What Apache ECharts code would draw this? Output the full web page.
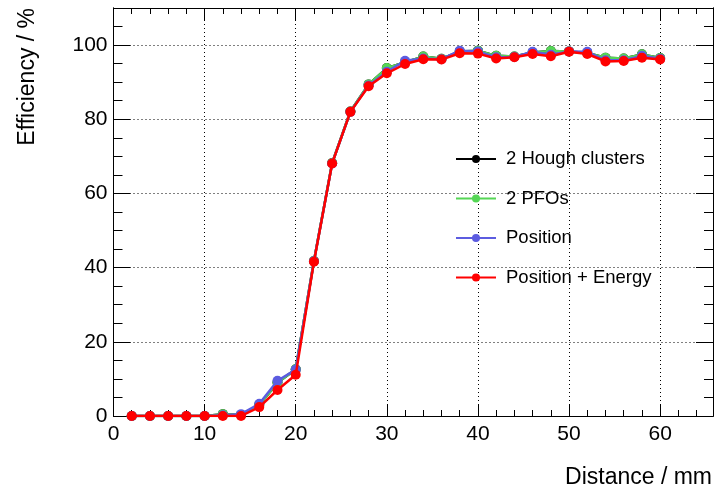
<!DOCTYPE html>
<html>
<head>
<meta charset="utf-8">
<script src="https://cdn.jsdelivr.net/npm/echarts@6/dist/echarts.min.js"></script>
<style>
html,body{margin:0;padding:0;background:#fff;}
#chart{width:717px;height:489px;}
</style>
</head>
<body>
<div id="chart"></div>
<script>
const distance = [2,4,6,8,10,12,14,16,18,20,22,24,26,28,30,32,34,36,38,40,42,44,46,48,50,52,54,56,58,60];
const houghClusters = [0,0,0,0,0,0.5,0.3,3.0,9.0,12.6,41.8,68.2,82.1,89.4,93.8,95.4,96.9,96.3,98.3,98.5,97.1,96.9,98.0,98.4,98.3,97.9,96.6,96.4,97.5,96.5];
const twoPFOs = [0,0,0,0,0,0.5,0.3,3.0,9.0,12.6,41.8,68.2,82.1,89.4,93.8,95.4,96.9,96.3,98.3,98.5,97.1,96.9,98.0,98.4,98.3,97.9,96.6,96.4,97.5,96.5];
const position = [0,0,0,0,0,0.2,0.5,3.3,9.5,12.5,41.7,68.1,82.0,89.1,92.8,95.8,96.4,96.2,98.5,98.3,96.7,96.8,98.2,97.4,98.3,98.2,95.9,95.9,97.1,96.3];
const positionEnergy = [0,0,0,0,0,0,0,2.4,7.0,11.1,41.6,68.1,82.0,88.9,92.4,94.9,96.2,96.1,97.8,97.7,96.4,96.7,97.6,97.0,98.2,97.6,95.6,95.7,96.6,96.1];
const seriesNames = ['2 Hough clusters','2 PFOs','Position','Position + Energy'];
const seriesColors = ['#000000','#55d655','#5c5ce0','#ff0000'];
const xTitle = 'Distance / mm';
const yTitle = 'Efficiency / %';

const FONT = 'Liberation Sans, Arial, sans-serif';
const X_MIN = 0, X_MAX = 65.8, Y_MIN = 0, Y_MAX = 110;

const chart = echarts.init(document.getElementById('chart'), null, {renderer:'canvas'});

function pairs(ys){ return distance.map((x,i)=>[x, ys[i]]); }
const allData = [houghClusters, twoPFOs, position, positionEnergy];

function axisBase(pos, min, max, interval, tickLen, opts){
  return Object.assign({
    type:'value', position:pos, min:min, max:max, interval:interval,
    axisLine:{show:true, onZero:false, lineStyle:{color:'#000', width:1}},
    axisTick:{show:true, inside:true, length:tickLen, lineStyle:{color:'#000', width:1}},
    axisLabel:{show:false},
    splitLine:{show:false}
  }, opts||{});
}

const option = {
  backgroundColor:'#fff',
  animation:false,
  grid:{left:113.5, right:4, top:8, bottom:73, containLabel:false},
  xAxis:[
    axisBase('bottom', X_MIN, X_MAX, 10, 12, {
      axisLabel:{show:true, color:'#000', fontSize:21, fontFamily:FONT, margin:8, showMaxLabel:false},
      splitLine:{show:true, lineStyle:{color:'#000', type:[1,3], width:1}}
    }),
    axisBase('bottom', X_MIN, X_MAX, 2, 6),
    axisBase('top', X_MIN, X_MAX, 10, 12),
    axisBase('top', X_MIN, X_MAX, 2, 6)
  ],
  yAxis:[
    axisBase('left', Y_MIN, Y_MAX, 20, 17, {
      axisLabel:{show:true, color:'#000', fontSize:21, fontFamily:FONT, margin:6, showMaxLabel:false},
      splitLine:{show:true, lineStyle:{color:'#000', type:[1,3], width:1}}
    }),
    axisBase('left', Y_MIN, Y_MAX, 5, 9),
    axisBase('right', Y_MIN, Y_MAX, 20, 17),
    axisBase('right', Y_MIN, Y_MAX, 5, 9)
  ],
  legend:{
    orient:'vertical', left:455, top:149, padding:0,
    itemWidth:40, itemHeight:10, itemGap:19.5,
    textStyle:{color:'#000', fontSize:18.5, fontFamily:FONT, lineHeight:20, padding:[0,0,0,5]},
    data:seriesNames
  },
  graphic:[
    {type:'text', right:5, top:466, style:{text:xTitle, fill:'#000', font:'23px '+FONT}},
    {type:'text', x:28, y:8, rotation:Math.PI/2, style:{text:yTitle, fill:'#000', font:'23px '+FONT, align:'right', verticalAlign:'middle'}}
  ],
  series: seriesNames.map((name,i)=>({
    name:name, type:'line', xAxisIndex:0, yAxisIndex:0,
    data:pairs(allData[i]),
    symbol:'circle', symbolSize:10,
    lineStyle:{color:seriesColors[i], width:2.5},
    itemStyle:{color:seriesColors[i]},
    z:2+i
  }))
};
chart.setOption(option);
</script>
</body>
</html>
